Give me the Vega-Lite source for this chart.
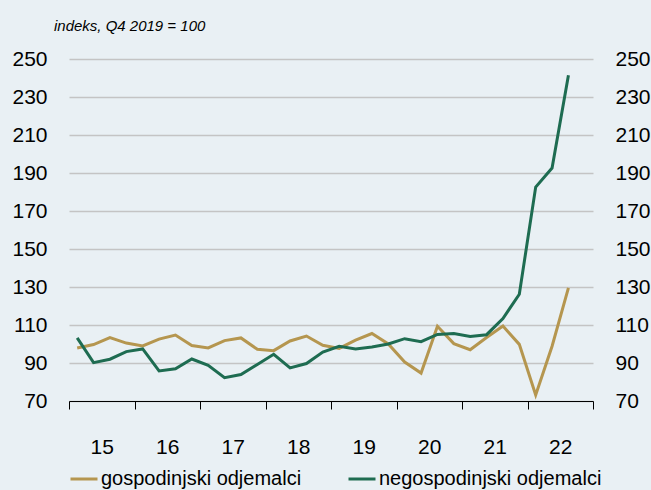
{
  "$schema": "https://vega.github.io/schema/vega-lite/v6.json",
  "width": 524,
  "height": 342,
  "autosize": {"type": "none"},
  "padding": {"left": 69, "top": 59, "right": 58, "bottom": 89},
  "background": "#e9f0f4",
  "config": {"view": {"stroke": null}, "font": "Liberation Sans"},
  "title": {"text": "indeks, Q4 2019 = 100", "anchor": "start", "fontStyle": "italic", "fontWeight": "normal", "fontSize": 15, "font": "Liberation Sans", "color": "#000", "dx": 42, "offset": 14},
  "data": {"values": [
    {"t": 2015.125, "s": "gospodinjski odjemalci", "v": 97.9},
    {"t": 2015.375, "s": "gospodinjski odjemalci", "v": 99.7},
    {"t": 2015.625, "s": "gospodinjski odjemalci", "v": 103.4},
    {"t": 2015.875, "s": "gospodinjski odjemalci", "v": 100.5},
    {"t": 2016.125, "s": "gospodinjski odjemalci", "v": 99.0},
    {"t": 2016.375, "s": "gospodinjski odjemalci", "v": 102.6},
    {"t": 2016.625, "s": "gospodinjski odjemalci", "v": 104.7},
    {"t": 2016.875, "s": "gospodinjski odjemalci", "v": 99.2},
    {"t": 2017.125, "s": "gospodinjski odjemalci", "v": 97.9},
    {"t": 2017.375, "s": "gospodinjski odjemalci", "v": 101.8},
    {"t": 2017.625, "s": "gospodinjski odjemalci", "v": 103.2},
    {"t": 2017.875, "s": "gospodinjski odjemalci", "v": 97.2},
    {"t": 2018.125, "s": "gospodinjski odjemalci", "v": 96.5},
    {"t": 2018.375, "s": "gospodinjski odjemalci", "v": 101.6},
    {"t": 2018.625, "s": "gospodinjski odjemalci", "v": 104.2},
    {"t": 2018.875, "s": "gospodinjski odjemalci", "v": 99.3},
    {"t": 2019.125, "s": "gospodinjski odjemalci", "v": 97.7},
    {"t": 2019.375, "s": "gospodinjski odjemalci", "v": 102.0},
    {"t": 2019.625, "s": "gospodinjski odjemalci", "v": 105.5},
    {"t": 2019.875, "s": "gospodinjski odjemalci", "v": 100.0},
    {"t": 2020.125, "s": "gospodinjski odjemalci", "v": 90.5},
    {"t": 2020.375, "s": "gospodinjski odjemalci", "v": 84.7},
    {"t": 2020.625, "s": "gospodinjski odjemalci", "v": 109.3},
    {"t": 2020.875, "s": "gospodinjski odjemalci", "v": 100.2},
    {"t": 2021.125, "s": "gospodinjski odjemalci", "v": 97.0},
    {"t": 2021.375, "s": "gospodinjski odjemalci", "v": 103.4},
    {"t": 2021.625, "s": "gospodinjski odjemalci", "v": 109.5},
    {"t": 2021.875, "s": "gospodinjski odjemalci", "v": 99.8},
    {"t": 2022.125, "s": "gospodinjski odjemalci", "v": 73.2},
    {"t": 2022.375, "s": "gospodinjski odjemalci", "v": 98.8},
    {"t": 2022.625, "s": "gospodinjski odjemalci", "v": 129.5},
    {"t": 2015.125, "s": "negospodinjski odjemalci", "v": 103.2},
    {"t": 2015.375, "s": "negospodinjski odjemalci", "v": 90.2},
    {"t": 2015.625, "s": "negospodinjski odjemalci", "v": 92.0},
    {"t": 2015.875, "s": "negospodinjski odjemalci", "v": 96.0},
    {"t": 2016.125, "s": "negospodinjski odjemalci", "v": 97.4},
    {"t": 2016.375, "s": "negospodinjski odjemalci", "v": 85.8},
    {"t": 2016.625, "s": "negospodinjski odjemalci", "v": 87.0},
    {"t": 2016.875, "s": "negospodinjski odjemalci", "v": 92.1},
    {"t": 2017.125, "s": "negospodinjski odjemalci", "v": 88.8},
    {"t": 2017.375, "s": "negospodinjski odjemalci", "v": 82.3},
    {"t": 2017.625, "s": "negospodinjski odjemalci", "v": 83.9},
    {"t": 2017.875, "s": "negospodinjski odjemalci", "v": 89.2},
    {"t": 2018.125, "s": "negospodinjski odjemalci", "v": 94.6},
    {"t": 2018.375, "s": "negospodinjski odjemalci", "v": 87.4},
    {"t": 2018.625, "s": "negospodinjski odjemalci", "v": 89.7},
    {"t": 2018.875, "s": "negospodinjski odjemalci", "v": 95.8},
    {"t": 2019.125, "s": "negospodinjski odjemalci", "v": 98.8},
    {"t": 2019.375, "s": "negospodinjski odjemalci", "v": 97.4},
    {"t": 2019.625, "s": "negospodinjski odjemalci", "v": 98.4},
    {"t": 2019.875, "s": "negospodinjski odjemalci", "v": 100.0},
    {"t": 2020.125, "s": "negospodinjski odjemalci", "v": 102.8},
    {"t": 2020.375, "s": "negospodinjski odjemalci", "v": 101.2},
    {"t": 2020.625, "s": "negospodinjski odjemalci", "v": 105.0},
    {"t": 2020.875, "s": "negospodinjski odjemalci", "v": 105.5},
    {"t": 2021.125, "s": "negospodinjski odjemalci", "v": 104.0},
    {"t": 2021.375, "s": "negospodinjski odjemalci", "v": 104.9},
    {"t": 2021.625, "s": "negospodinjski odjemalci", "v": 113.4},
    {"t": 2021.875, "s": "negospodinjski odjemalci", "v": 126.2},
    {"t": 2022.125, "s": "negospodinjski odjemalci", "v": 182.6},
    {"t": 2022.375, "s": "negospodinjski odjemalci", "v": 192.6},
    {"t": 2022.625, "s": "negospodinjski odjemalci", "v": 241.4}
  ]},
  "layer": [
    {
      "mark": {"type": "line", "strokeWidth": 3},
      "encoding": {
        "x": {"field": "t", "type": "quantitative", "scale": {"domain": [2015, 2023], "nice": false, "zero": false},
          "axis": {"values": [2015, 2016, 2017, 2018, 2019, 2020, 2021, 2022, 2023], "labelExpr": "datum.value < 2023 ? (datum.value - 2000) + '' : ''", "labelOffset": 32.75, "labelFlush": false, "labelOverlap": false, "labelBound": false, "grid": false, "domainColor": "#000", "domainWidth": 1, "tickColor": "#000", "tickSize": 8, "labelFontSize": 21, "labelPadding": 27, "labelColor": "#000", "title": null}},
        "y": {"field": "v", "type": "quantitative", "scale": {"domain": [70, 250], "nice": false, "zero": false},
          "axis": {"values": [70, 90, 110, 130, 150, 170, 190, 210, 230, 250], "grid": true, "gridColor": "#c4c4c4", "gridWidth": 1.5, "domain": false, "ticks": false, "labelPadding": 22, "labelFontSize": 21, "labelColor": "#000", "title": null}},
        "color": {"field": "s", "type": "nominal", "scale": {"domain": ["gospodinjski odjemalci", "negospodinjski odjemalci"], "range": ["#b5964f", "#1e6c51"]},
          "legend": {"orient": "bottom", "direction": "horizontal", "title": null, "symbolType": "stroke", "symbolStrokeWidth": 3, "symbolSize": 729, "labelFontSize": 20, "labelColor": "#000", "labelOffset": 2, "columnPadding": 40, "offset": 7, "labelLimit": 400}}
      }
    },
    {
      "mark": {"type": "line", "opacity": 0},
      "encoding": {
        "x": {"field": "t", "type": "quantitative"},
        "y": {"field": "v", "type": "quantitative", "scale": {"domain": [70, 250], "nice": false, "zero": false},
          "axis": {"orient": "right", "values": [70, 90, 110, 130, 150, 170, 190, 210, 230, 250], "grid": false, "domain": false, "ticks": false, "labelPadding": 22, "labelFontSize": 21, "labelColor": "#000", "title": null}},
        "detail": {"field": "s", "type": "nominal"}
      }
    }
  ],
  "resolve": {"scale": {"y": "independent"}}
}
